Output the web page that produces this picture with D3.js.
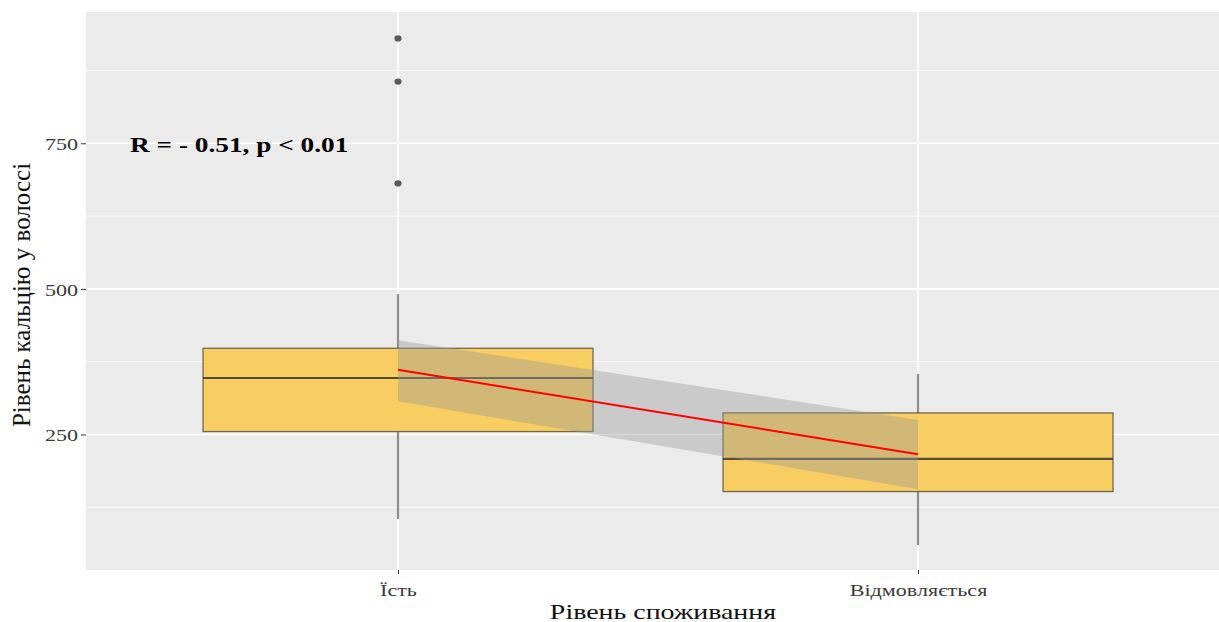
<!DOCTYPE html>
<html>
<head>
<meta charset="utf-8">
<script src="https://cdn.jsdelivr.net/npm/d3@7"></script>
<style>
  html, body { margin: 0; padding: 0; background: #fff; }
  svg { display: block; }
  text { font-family: "Liberation Serif", "Times New Roman", serif; }
</style>
</head>
<body>
<svg id="chart" width="1219" height="622"></svg>
<script>
// Consumption groups and hair calcium summary per group
const categories = ["Їсть", "Відмовляється"];
const whiskerLow  = [105, 60];
const q1          = [255, 152];
const median      = [347, 208];
const q3          = [398, 287];
const whiskerHigh = [491, 354];
const outlierGroup = ["Їсть", "Їсть", "Їсть"];
const outlierValue = [930, 856, 681];

// Linear fit across the two groups with its confidence band
const fitValue = [361, 216];
const fitLower = [307, 156];
const fitUpper = [412, 275];

const yTicks = [250, 500, 750];
const yMinor = [125, 375, 625, 875];
const annotation = "R = - 0.51, p < 0.01";
const xTitle = "Рівень споживання";
const yTitle = "Рівень кальцію у волоссі";

const panel = { left: 86, top: 12, right: 1230, bottom: 570 };
const textScaleX = 1.3;

const svg = d3.select("#chart");

const x = d3.scalePoint()
  .domain(categories)
  .range([panel.left, panel.right])
  .padding(0.6);
const step = x.step();
const boxW = step * 0.75;

const y = d3.scaleLinear()
  .domain([17.3, 975.4])
  .range([panel.bottom, panel.top]);

// panel background
svg.append("rect")
  .attr("x", panel.left).attr("y", panel.top)
  .attr("width", panel.right - panel.left)
  .attr("height", panel.bottom - panel.top)
  .attr("fill", "#ebebeb");

// grid lines
const grid = svg.append("g");
grid.selectAll(".minor").data(yMinor).join("line")
  .attr("x1", panel.left).attr("x2", panel.right)
  .attr("y1", d => y(d)).attr("y2", d => y(d))
  .attr("stroke", "#fff").attr("stroke-width", 0.9).attr("opacity", 0.85);
grid.selectAll(".major").data(yTicks).join("line")
  .attr("x1", panel.left).attr("x2", panel.right)
  .attr("y1", d => y(d)).attr("y2", d => y(d))
  .attr("stroke", "#fff").attr("stroke-width", 1.6);
grid.selectAll(".vmajor").data(categories).join("line")
  .attr("x1", d => x(d)).attr("x2", d => x(d))
  .attr("y1", panel.top).attr("y2", panel.bottom)
  .attr("stroke", "#fff").attr("stroke-width", 1.6);

// boxes
const boxes = categories.map((c, i) => ({
  cat: c, lo: whiskerLow[i], q1: q1[i], med: median[i], q3: q3[i], hi: whiskerHigh[i]
}));
const bx = svg.append("g");
bx.selectAll(".wh-up").data(boxes).join("line")
  .attr("x1", d => x(d.cat)).attr("x2", d => x(d.cat))
  .attr("y1", d => y(d.q3)).attr("y2", d => y(d.hi))
  .attr("stroke", "#8e8e8e").attr("stroke-width", 2.2);
bx.selectAll(".wh-dn").data(boxes).join("line")
  .attr("x1", d => x(d.cat)).attr("x2", d => x(d.cat))
  .attr("y1", d => y(d.q1)).attr("y2", d => y(d.lo))
  .attr("stroke", "#8e8e8e").attr("stroke-width", 2.2);
bx.selectAll(".box").data(boxes).join("rect")
  .attr("x", d => x(d.cat) - boxW / 2)
  .attr("y", d => y(d.q3))
  .attr("width", boxW)
  .attr("height", d => y(d.q1) - y(d.q3))
  .attr("fill", "#f8ce62")
  .attr("stroke", "rgba(70,65,50,0.75)")
  .attr("stroke-width", 1.3);
bx.selectAll(".med").data(boxes).join("line")
  .attr("x1", d => x(d.cat) - boxW / 2).attr("x2", d => x(d.cat) + boxW / 2)
  .attr("y1", d => y(d.med)).attr("y2", d => y(d.med))
  .attr("stroke", "rgba(55,55,50,0.85)").attr("stroke-width", 2.2);

// outliers
svg.append("g").selectAll("ellipse")
  .data(outlierValue.map((v, i) => ({ cat: outlierGroup[i], v })))
  .join("ellipse")
  .attr("cx", d => x(d.cat)).attr("cy", d => y(d.v))
  .attr("rx", 3.6).attr("ry", 3.1)
  .attr("fill", "#5a5a5a");

// confidence band and fitted line
const fit = categories.map((c, i) => ({ cat: c, v: fitValue[i], lo: fitLower[i], hi: fitUpper[i] }));
svg.append("path")
  .datum(fit)
  .attr("d", d3.area().x(d => x(d.cat)).y0(d => y(d.lo)).y1(d => y(d.hi)))
  .attr("fill", "#999999").attr("opacity", 0.4);
svg.append("path")
  .datum(fit)
  .attr("d", d3.line().x(d => x(d.cat)).y(d => y(d.v)))
  .attr("fill", "none").attr("stroke", "#ff0000").attr("stroke-width", 2);

// axes
const yAxis = svg.append("g")
  .attr("transform", `translate(${panel.left},0)`)
  .call(d3.axisLeft(y).tickValues(yTicks).tickSize(5).tickPadding(3));
yAxis.select(".domain").remove();
yAxis.selectAll(".tick line").attr("stroke", "#333");
yAxis.selectAll(".tick text")
  .attr("fill", "#3a3a3a").attr("font-size", 17)
  .attr("transform", `scale(${textScaleX},1)`)
  .attr("x", -8 / textScaleX)
  .attr("dy", "0.36em");

const xAxis = svg.append("g")
  .attr("transform", `translate(0,${panel.bottom})`)
  .call(d3.axisBottom(x).tickSize(4).tickPadding(4));
xAxis.select(".domain").remove();
xAxis.selectAll(".tick line").attr("stroke", "#333");
xAxis.selectAll(".tick text")
  .attr("fill", "#3a3a3a").attr("font-size", 17)
  .attr("transform", `scale(${textScaleX},1)`)
  .attr("y", 26).attr("dy", 0);

// axis titles
svg.append("text")
  .attr("transform", `translate(663,619) scale(${textScaleX},1)`)
  .attr("text-anchor", "middle")
  .attr("font-size", 21.5).attr("fill", "#111")
  .text(xTitle);
svg.append("text")
  .attr("transform", `translate(30,295) rotate(-90)`)
  .attr("text-anchor", "middle")
  .attr("font-size", 25).attr("fill", "#111")
  .text(yTitle);

// correlation label
svg.append("text")
  .attr("transform", `translate(130,${y(735)}) scale(${textScaleX},1)`)
  .attr("font-size", 21).attr("font-weight", "bold").attr("fill", "#000")
  .text(annotation);
</script>
</body>
</html>
